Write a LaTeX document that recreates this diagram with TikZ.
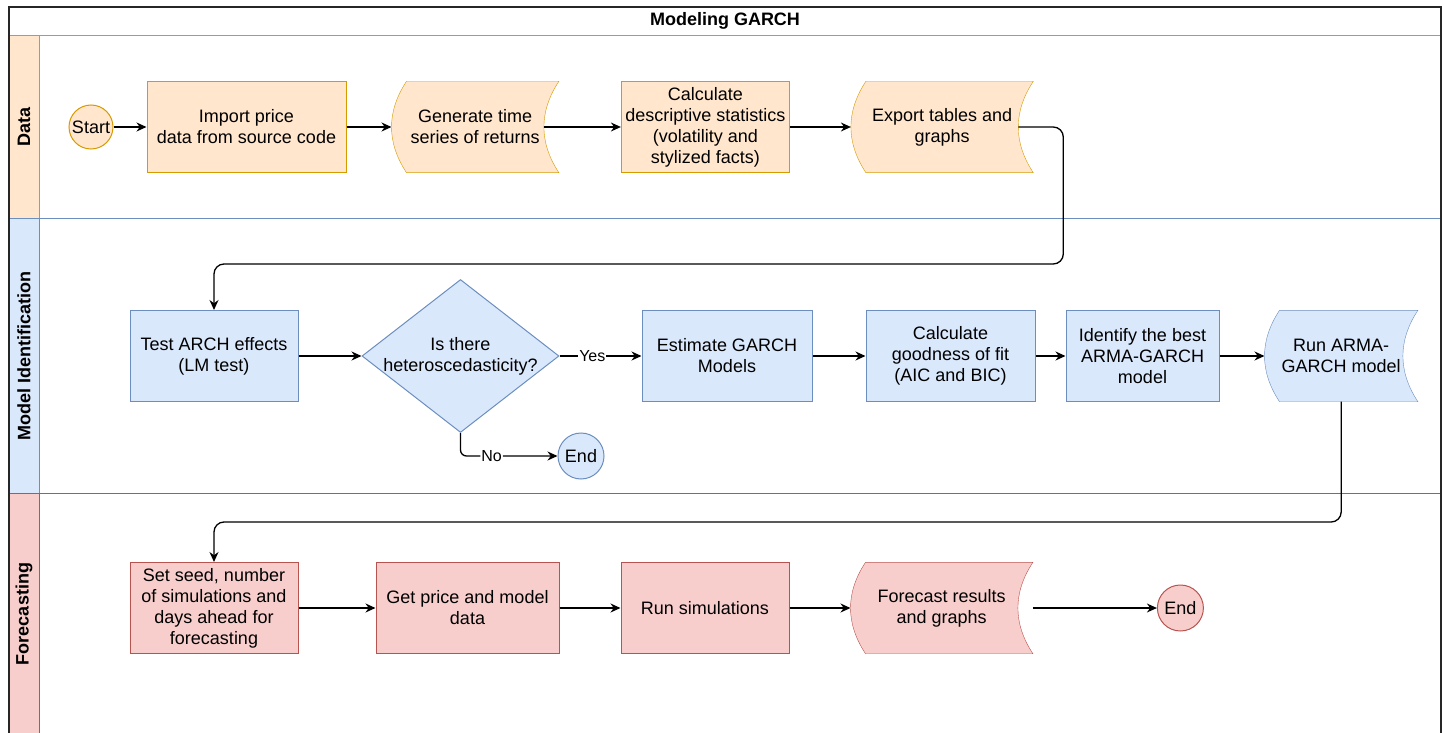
\documentclass[tikz,border=0pt]{standalone}
\usepackage{fontspec}
\setmainfont{Liberation Sans}
\usetikzlibrary{positioning,shapes.geometric,arrows.meta,backgrounds}

\definecolor{dataline}{HTML}{D79B00}
\definecolor{datafill}{HTML}{FFE6CC}
\definecolor{idline}{HTML}{6C8EBF}
\definecolor{idfill}{HTML}{DAE8FC}
\definecolor{fcline}{HTML}{B85450}
\definecolor{fcfill}{HTML}{F8CECC}

% stored data outline round a plain node
\newcommand{\storedbox}[2]{%
  \draw[#2] ([xshift=15pt]#1.north west) -- (#1.north east)
    .. controls +(-20pt,-30.3pt) and +(-20pt,30.3pt) .. (#1.south east)
    -- ([xshift=15pt]#1.south west)
    .. controls +(-20pt,30.3pt) and +(-20pt,-30.3pt) .. ([xshift=15pt]#1.north west) -- cycle;}

\begin{document}
\begin{tikzpicture}[x=1pt, y=-1pt, font=\fontsize{18}{21}\selectfont, >={Stealth[length=10pt,width=9pt]},
    main/.style = {draw, rectangle, minimum height=91pt, inner sep=2pt, align=center, line width=1pt},
    term/.style = {draw, circle, minimum size=44pt, inner sep=0pt, line width=1pt},
    stored/.style = {minimum height=91pt, inner sep=2pt, align=center},
    dec/.style = {draw, diamond, aspect=1.29, minimum width=197pt, minimum height=153pt, inner sep=0pt, align=center, line width=1pt},
    lbl/.style = {fill=white, inner sep=1pt, font=\fontsize{16}{19}\selectfont},
    lane/.style = {rotate=90, font=\bfseries\fontsize{18}{21}\selectfont},
    dat/.style = {draw=dataline, fill=datafill},
    mid/.style = {draw=idline, fill=idfill},
    fct/.style = {draw=fcline, fill=fcfill}]
      \useasboundingbox (0,0) rectangle (1444,733);

      \node[font=\bfseries\fontsize{18}{21}\selectfont] (t) at (725,21) {Modeling GARCH};
      \node[lane] (l1) at (24,127) {Data};
      \node[lane] (l2) at (24,356) {Model Identification};
      \node[lane] (l3) at (24,614) {Forecasting};

      % data
      \node[term, dat] (1) at (91,127) {Start};
      \node[main, dat, minimum width=199pt] (2) [right=33pt of 1] {Import price\\data from source code};
      \node[stored, minimum width=167pt] (3) [right=45pt of 2] {Generate time\\series of returns};
      \node[main, dat, minimum width=168pt] (4) [right=62pt of 3] {Calculate\\descriptive statistics\\(volatility and\\stylized facts)};
      \node[stored, minimum width=182pt] (5) [right=61pt of 4] {Export tables and\\graphs};

      % model identification
      \node[main, mid, minimum width=168pt] (6) at (214,356) {Test ARCH effects\\(LM test)};
      \node[dec, mid] (7) [right=63pt of 6] {Is there\\\makebox[120pt]{heteroscedasticity?}};
      \node[main, mid, minimum width=170pt] (8) [right=82pt of 7] {Estimate GARCH\\Models};
      \node[main, mid, minimum width=169pt] (9) [right=53pt of 8] {Calculate\\goodness of fit\\(AIC and BIC)};
      \node[main, mid, minimum width=153pt] (10) [right=30pt of 9] {Identify the best\\ARMA-GARCH\\model};
      \node[stored, minimum width=153pt] (11) [right=45pt of 10] {Run ARMA-\\GARCH model};
      \node[term, mid, minimum size=46pt] (12) at (581,456) {End};

      % forecasting
      \node[main, fct, minimum width=168pt] (13) at (214,608) {Set seed, number\\of simulations and\\days ahead for\\forecasting};
      \node[main, fct, minimum width=183pt] (14) [right=77pt of 13] {Get price and model\\data};
      \node[main, fct, minimum width=168pt] (15) [right=61pt of 14] {Run simulations};
      \node[stored, minimum width=182pt] (16) [right=61pt of 15] {Forecast results\\and graphs};
      \node[term, fct, minimum size=46pt] (17) [right=124pt of 16] {End};

      \coordinate[above=46pt of 6] (c1);
      \coordinate[above=40pt of 13] (c2);

      \path[->, line width=1.3pt]
      (1) edge (2)
      (2) edge (3)
      ([xshift=-15pt]3.east) edge (4)
      (4) edge (5)
      (6) edge (7)
      (7) edge node[lbl, pos=0.4] {Yes} (8)
      (8) edge (9)
      (9) edge (10)
      (10) edge (11)
      (13) edge (14)
      (14) edge (15)
      (15) edge (16)
      (16) edge (17);

      \draw[->, line width=1.3pt, rounded corners=10pt] ([xshift=-15pt]5.east) -- ++(45pt,0) |- (c1) -- (6);
      \draw[->, line width=1.3pt, rounded corners=10pt] (11.south) |- (c2) -- (13);
      \draw[->, line width=1.3pt, rounded corners=6pt] (7.south) |- node[lbl, pos=0.66] {No} (12);

      \begin{scope}[on background layer, line width=1.3pt]
        \draw[dataline] (9,35) rectangle (1441,218);
        \draw[dat] (9,35) rectangle (39,218);
        \draw[idline] (9,218) rectangle (1441,493);
        \draw[mid] (9,218) rectangle (39,493);
        \draw[fcline] (9,493) rectangle (1441,736);
        \draw[fct] (9,493) rectangle (39,736);
        \draw[line width=1.6pt, black!85] (9,7) rectangle (1441,736);
        \storedbox{3}{dat}
        \storedbox{5}{dat}
        \storedbox{11}{mid}
        \storedbox{16}{fct}
      \end{scope}
    \end{tikzpicture}
\end{document}
